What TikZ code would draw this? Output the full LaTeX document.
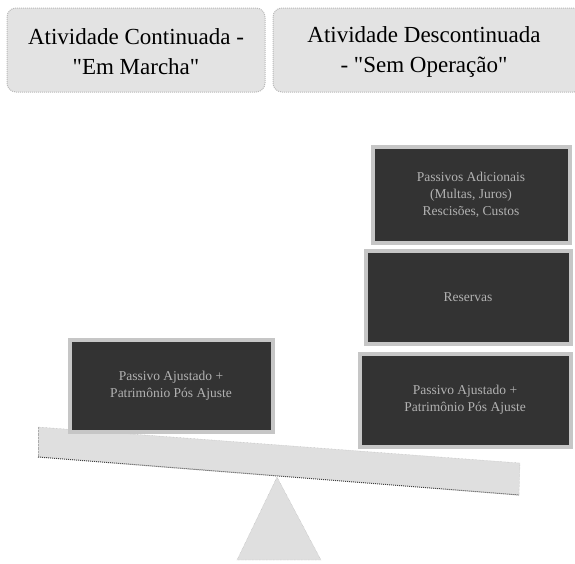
\documentclass[tikz,border=0pt]{standalone}
\usepackage{fontspec}
\setmainfont{Liberation Serif}[Ligatures=TeXOff]
\begin{document}
\begin{tikzpicture}[x=1pt,y=-1pt,
  titlebox/.style={draw=gray!55, densely dotted, line width=1pt, fill=gray!22, rounded corners=9pt, inner sep=0pt},
  titletext/.style={align=center, font=\fontsize{23}{30}\selectfont, text=black},
  darkbox/.style={draw=gray!45, line width=4pt, fill=black!80, inner sep=0pt},
  darktext/.style={align=center, font=\fontsize{13.5}{17}\selectfont, text=gray!60}]
\useasboundingbox (0,0) rectangle (575,563);
% titles
\filldraw[titlebox] (7,8) rectangle (265,92);
\node[titletext] (t1) at (136,52) {Atividade Continuada -\\"Em Marcha"};
\filldraw[titlebox] (273,8) rectangle (583,92);
\node[titletext] (t2) at (424,52) {Atividade Descontinuada\\- "Sem Operação"};
% fulcrum
\coordinate (apex) at (277,477);
\coordinate (bl) at (237,560);
\coordinate (br) at (321,560);
\filldraw[fill=gray!25, draw=gray!65, densely dotted] (apex) -- (br) -- (bl) -- cycle;
% beam
\coordinate (b1) at (38,427);
\coordinate (b2) at (520,463);
\coordinate (b3) at (519,495);
\coordinate (b4) at (38,457);
\fill[gray!25] (b1) -- (b2) -- (b3) -- (b4) -- cycle;
\draw[gray!65, densely dotted] (b1) -- (b2) -- (b3);
\draw[gray!65, densely dotted] (b1) -- (b4);
\draw[black!75, line width=1pt, densely dotted] (b4) -- (b3);
% left box
\filldraw[darkbox] (70,340) rectangle (273,432);
\node[darktext] (l1) at (171,386) {Passivo Ajustado +\\Patrimônio Pós Ajuste};
% right stack
\filldraw[darkbox] (373,147) rectangle (570,243);
\node[darktext] (r1) at (471,195) {Passivos Adicionais\\(Multas, Juros)\\Rescisões, Custos};
\filldraw[darkbox] (366,251) rectangle (571,344);
\node[darktext] (r2) at (468,297) {Reservas};
\filldraw[darkbox] (360,354) rectangle (571,447);
\node[darktext] (r3) at (465,400) {Passivo Ajustado +\\Patrimônio Pós Ajuste};
\end{tikzpicture}
\end{document}
